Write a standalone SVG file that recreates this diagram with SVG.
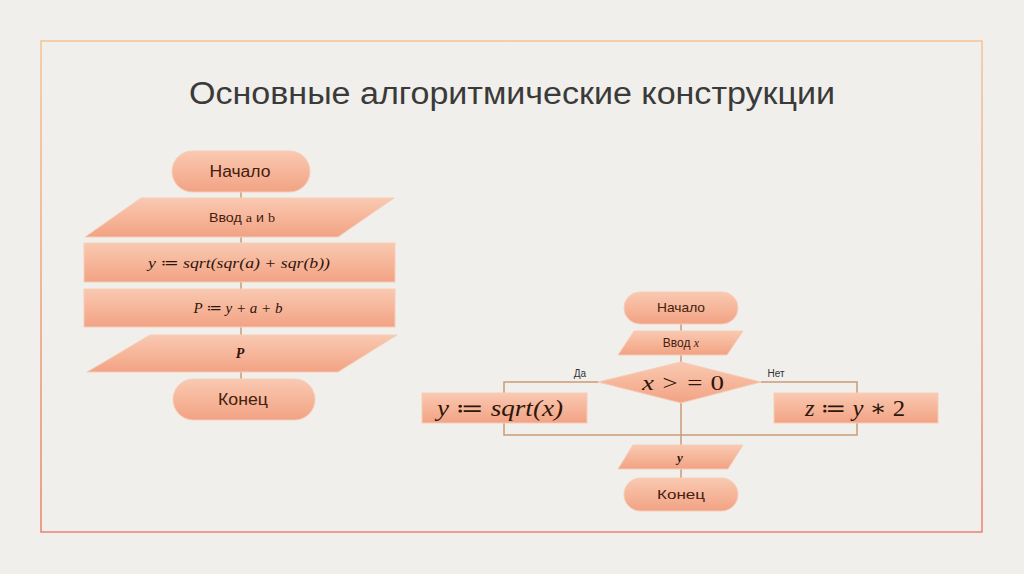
<svg xmlns="http://www.w3.org/2000/svg" width="1024" height="574" viewBox="0 0 1024 574">
<defs>
<linearGradient id="fillg" x1="0" y1="0" x2="0" y2="1">
<stop offset="0" stop-color="#f9c9b2"/>
<stop offset="0.5" stop-color="#f6b69a"/>
<stop offset="1" stop-color="#f2a284"/>
</linearGradient>
<linearGradient id="frameg" x1="0" y1="0" x2="0" y2="1">
<stop offset="0" stop-color="#f6bd88"/>
<stop offset="1" stop-color="#e8725a"/>
</linearGradient>
<style>
.shape{fill:url(#fillg);stroke:#f7cdb6;stroke-width:1}
.conn{fill:none;stroke:#c99a78;stroke-width:1.5}
.lbl{font-family:"Liberation Sans","DejaVu Sans",sans-serif;fill:#45200f;text-anchor:middle}
.math{font-family:"Liberation Serif","DejaVu Serif",serif;font-style:italic;fill:#2e160c;text-anchor:middle}
.small{font-family:"Liberation Sans","DejaVu Sans",sans-serif;fill:#333;font-size:10px;text-anchor:middle}
</style>
</defs>
<rect x="0" y="0" width="1024" height="574" fill="#f0efeb"/>
<rect x="41" y="41" width="941" height="491" fill="none" stroke="url(#frameg)" stroke-width="1.3"/>
<text x="512" y="104" font-family="'Liberation Sans','DejaVu Sans',sans-serif" font-size="31" fill="#3a3a3a" text-anchor="middle" textLength="646" lengthAdjust="spacingAndGlyphs">Основные алгоритмические конструкции</text>

<g id="connectors">
<line class="conn" x1="241" y1="192" x2="241" y2="380"/>
<line class="conn" x1="681" y1="324" x2="681" y2="478"/>
<polyline class="conn" points="598,382 504,382 504,435 857,435 857,382 761,382"/>
</g>

<g id="l-start">
<rect class="shape" x="172" y="151" width="138" height="41" rx="20.5"/>
<text class="lbl" x="240" y="177" font-size="16" textLength="61" lengthAdjust="spacingAndGlyphs">Начало</text>
</g>
<g id="l-input">
<polygon class="shape" points="141,198 394,198 338,237 85,237"/>
<text class="lbl" x="242" y="222" font-size="13" textLength="66" lengthAdjust="spacingAndGlyphs">Ввод <tspan font-family="'Liberation Serif',serif">a</tspan> и <tspan font-family="'Liberation Serif',serif">b</tspan></text>
</g>
<g id="l-calc1">
<rect class="shape" x="84" y="243" width="311" height="39"/>
<text class="math" x="239" y="268" font-size="15" textLength="182" lengthAdjust="spacingAndGlyphs">y ≔ sqrt(sqr(a) + sqr(b))</text>
</g>
<g id="l-calc2">
<rect class="shape" x="84" y="289" width="311" height="38"/>
<text class="math" x="238" y="313" font-size="15" textLength="89" lengthAdjust="spacingAndGlyphs">P ≔ y + a + b</text>
</g>
<g id="l-output">
<polygon class="shape" points="150,335 397,335 338,372 87,372"/>
<text class="math" x="240" y="358" font-size="14" font-weight="bold">P</text>
</g>
<g id="l-end">
<rect class="shape" x="173" y="379" width="142" height="41" rx="20.5"/>
<text class="lbl" x="243" y="405" font-size="17" textLength="50" lengthAdjust="spacingAndGlyphs">Конец</text>
</g>

<g id="r-start">
<rect class="shape" x="624" y="292" width="114" height="32" rx="16"/>
<text class="lbl" x="681" y="312" font-size="13" textLength="48" lengthAdjust="spacingAndGlyphs">Начало</text>
</g>
<g id="r-input">
<polygon class="shape" points="634,331 743,331 727,355 618,355"/>
<text class="lbl" x="681" y="347" font-size="12">Ввод <tspan font-family="'Liberation Serif',serif" font-style="italic">x</tspan></text>
</g>
<g id="r-cond">
<polygon class="shape" points="681,362 761,382 681,403 598,382"/>
<text class="math" x="683" y="390" font-size="21" textLength="82" lengthAdjust="spacingAndGlyphs">x &gt; = <tspan font-style="normal">0</tspan></text>
</g>
<text class="small" x="580" y="377">Да</text>
<text class="small" x="776" y="377">Нет</text>
<g id="r-yes">
<rect class="shape" x="422" y="393" width="165" height="30"/>
<text class="math" x="500" y="416" font-size="23" textLength="126" lengthAdjust="spacingAndGlyphs">y ≔ sqrt(x)</text>
</g>
<g id="r-no">
<rect class="shape" x="774" y="393" width="164" height="30"/>
<text class="math" x="855" y="416" font-size="23" textLength="100" lengthAdjust="spacingAndGlyphs">z ≔ y <tspan font-style="normal">∗ 2</tspan></text>
</g>
<g id="r-output">
<polygon class="shape" points="633,445 743,445 728,469 618,469"/>
<text class="math" x="680" y="462" font-size="13" font-weight="bold">y</text>
</g>
<g id="r-end">
<rect class="shape" x="624" y="478" width="114" height="33" rx="16.5"/>
<text class="lbl" x="681" y="499" font-size="13" textLength="48" lengthAdjust="spacingAndGlyphs">Конец</text>
</g>
</svg>
